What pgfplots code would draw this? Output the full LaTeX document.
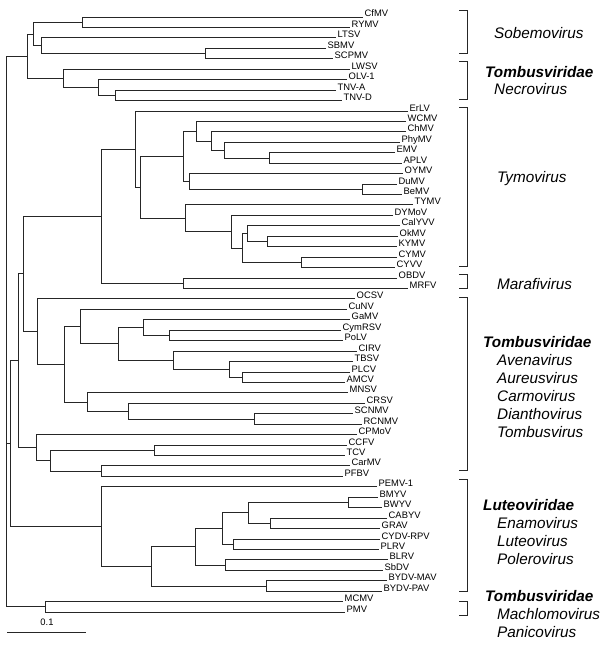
\documentclass[border=0pt]{standalone}
\usepackage{pgfplots}
\pgfplotsset{compat=1.18}
\usepackage{fontspec}
\setmainfont{Liberation Sans}
\begin{document}
\begin{tikzpicture}
\begin{axis}[width=607bp, height=646bp, scale only axis,
  xmin=0, xmax=607, ymin=0, ymax=646, y dir=reverse,
  hide axis, clip=false,
  br/.style={draw=black!85, line width=0.9bp, mark=none, forget plot}]
\coordinate (ll) at (axis cs:0,646);
\coordinate (ur) at (axis cs:607,0);
% root
\addplot[br] coordinates {(27,56.2) (6.5,56.2) (6.5,606.85) (45,606.85)};
\addplot[br] coordinates {(6.5,443.7) (10,443.7)};
% Sobemovirus / Necrovirus
\addplot[br] coordinates {(363,17.0) (82,17.0) (82,27.4) (350,27.4)};
\addplot[br] coordinates {(326,48.3) (205,48.3) (205,58.8) (333,58.8)};
\addplot[br] coordinates {(336,37.9) (41,37.9) (41,53.55) (205,53.55)};
\addplot[br] coordinates {(82,22.2) (33.7,22.2) (33.7,45.7) (41,45.7)};
\addplot[br] coordinates {(336,90.1) (115,90.1) (115,100.5) (342,100.5)};
\addplot[br] coordinates {(347,79.6) (98,79.6) (98,95.3) (115,95.3)};
\addplot[br] coordinates {(350,69.2) (63,69.2) (63,87.45) (98,87.45)};
\addplot[br] coordinates {(33.7,34.0) (27,34.0) (27,78.3) (63,78.3)};
% Tymovirus
\addplot[br] coordinates {(395,152.7) (269,152.7) (269,163.2) (402,163.2)};
\addplot[br] coordinates {(400,142.3) (224,142.3) (224,157.95) (269,157.95)};
\addplot[br] coordinates {(406,131.8) (211,131.8) (211,150.1) (224,150.1)};
\addplot[br] coordinates {(406,121.4) (196,121.4) (196,141.0) (211,141.0)};
\addplot[br] coordinates {(397,184.0) (362,184.0) (362,194.5) (402,194.5)};
\addplot[br] coordinates {(403,173.6) (189,173.6) (189,189.25) (362,189.25)};
\addplot[br] coordinates {(196,131.2) (183,131.2) (183,181.4) (189,181.4)};
\addplot[br] coordinates {(398,236.2) (267,236.2) (267,246.7) (397,246.7)};
\addplot[br] coordinates {(400,225.8) (247,225.8) (247,241.45) (267,241.45)};
\addplot[br] coordinates {(397,257.1) (301,257.1) (301,267.6) (395,267.6)};
\addplot[br] coordinates {(247,233.6) (242,233.6) (242,262.35) (301,262.35)};
\addplot[br] coordinates {(393,215.4) (231,215.4) (231,248.0) (242,248.0)};
\addplot[br] coordinates {(413,204.9) (185,204.9) (185,231.7) (231,231.7)};
\addplot[br] coordinates {(183,156.3) (140,156.3) (140,218.3) (185,218.3)};
\addplot[br] coordinates {(408,111.0) (135,111.0) (135,187.3) (140,187.3)};
\addplot[br] coordinates {(397,278.0) (183,278.0) (183,288.4) (408,288.4)};
\addplot[br] coordinates {(135,149.15) (101,149.15) (101,283.2) (183,283.2)};
% Tombusviridae
\addplot[br] coordinates {(341,330.2) (169,330.2) (169,340.6) (343,340.6)};
\addplot[br] coordinates {(350,319.8) (143,319.8) (143,335.4) (169,335.4)};
\addplot[br] coordinates {(350,372.0) (242,372.0) (242,382.4) (345,382.4)};
\addplot[br] coordinates {(353,361.5) (229,361.5) (229,377.2) (242,377.2)};
\addplot[br] coordinates {(357,351.1) (173,351.1) (173,369.35) (229,369.35)};
\addplot[br] coordinates {(143,327.6) (118,327.6) (118,360.2) (173,360.2)};
\addplot[br] coordinates {(347,309.3) (80,309.3) (80,343.9) (118,343.9)};
\addplot[br] coordinates {(353,413.7) (254,413.7) (254,424.2) (362,424.2)};
\addplot[br] coordinates {(365,403.3) (128,403.3) (128,418.95) (254,418.95)};
\addplot[br] coordinates {(348,392.8) (87,392.8) (87,411.1) (128,411.1)};
\addplot[br] coordinates {(80,326.6) (64,326.6) (64,401.95) (87,401.95)};
\addplot[br] coordinates {(355,298.9) (37,298.9) (37,364.3) (64,364.3)};
\addplot[br] coordinates {(101,216.2) (23,216.2) (23,331.6) (37,331.6)};
\addplot[br] coordinates {(347,445.0) (154,445.0) (154,455.5) (345,455.5)};
\addplot[br] coordinates {(350,465.9) (101,465.9) (101,476.4) (343,476.4)};
\addplot[br] coordinates {(154,450.25) (50,450.25) (50,471.15) (101,471.15)};
\addplot[br] coordinates {(357,434.6) (36,434.6) (36,460.7) (50,460.7)};
\addplot[br] coordinates {(23,273.9) (18,273.9) (18,447.65) (36,447.65)};
% Luteoviridae
\addplot[br] coordinates {(378,497.2) (348,497.2) (348,507.7) (382,507.7)};
\addplot[br] coordinates {(387,518.1) (270,518.1) (270,528.6) (380,528.6)};
\addplot[br] coordinates {(348,502.45) (248,502.45) (248,523.35) (270,523.35)};
\addplot[br] coordinates {(380,539.0) (233,539.0) (233,549.4) (379,549.4)};
\addplot[br] coordinates {(248,512.9) (222,512.9) (222,544.2) (233,544.2)};
\addplot[br] coordinates {(388,559.9) (225,559.9) (225,570.3) (383,570.3)};
\addplot[br] coordinates {(222,528.55) (195,528.55) (195,565.1) (225,565.1)};
\addplot[br] coordinates {(387,580.8) (266,580.8) (266,591.2) (382,591.2)};
\addplot[br] coordinates {(195,546.8) (151,546.8) (151,586.0) (266,586.0)};
\addplot[br] coordinates {(377,486.8) (101,486.8) (101,566.4) (151,566.4)};
\addplot[br] coordinates {(18,360.8) (10,360.8) (10,526.6) (101,526.6)};
% Machlomovirus / Panicovirus
\addplot[br] coordinates {(343,601.6) (45,601.6) (45,612.1) (345,612.1)};
% scale bar
\addplot[br] coordinates {(7,632) (86,632)};
% brackets
\addplot[br] coordinates {(459,10) (467,10) (467,53) (459,53)};
\addplot[br] coordinates {(459,61) (467,61) (467,99) (459,99)};
\addplot[br] coordinates {(459,107) (467,107) (467,266) (459,266)};
\addplot[br] coordinates {(459,274) (467,274) (467,288) (459,288)};
\addplot[br] coordinates {(459,297) (467,297) (467,470) (459,470)};
\addplot[br] coordinates {(459,479) (467,479) (467,591) (459,591)};
\addplot[br] coordinates {(459,601) (467,601) (467,615) (459,615)};
% leaf labels
\addplot[only marks, mark=none, forget plot, point meta=explicit symbolic,
  nodes near coords,
  nodes near coords style={anchor=base west, inner sep=0pt, xshift=1.5bp,
    font=\fontsize{9.4bp}{11bp}\selectfont, text=black}]
  table[meta=lab] {
x y lab
363 17.0 CfMV
350 27.4 RYMV
336 37.9 LTSV
326 48.3 SBMV
333 58.8 SCPMV
350 69.2 LWSV
347 79.6 OLV-1
336 90.1 TNV-A
342 100.5 TNV-D
408 111.0 ErLV
406 121.4 WCMV
406 131.8 ChMV
400 142.3 PhyMV
395 152.7 EMV
402 163.2 APLV
403 173.6 OYMV
397 184.0 DuMV
402 194.5 BeMV
413 204.9 TYMV
393 215.4 DYMoV
400 225.8 CalYVV
398 236.2 OkMV
397 246.7 KYMV
397 257.1 CYMV
395 267.6 CYVV
397 278.0 OBDV
408 288.4 MRFV
355 298.9 OCSV
347 309.3 CuNV
350 319.8 GaMV
341 330.2 CymRSV
343 340.6 PoLV
357 351.1 CIRV
353 361.5 TBSV
350 372.0 PLCV
345 382.4 AMCV
348 392.8 MNSV
365 403.3 CRSV
353 413.7 SCNMV
362 424.2 RCNMV
357 434.6 CPMoV
347 445.0 CCFV
345 455.5 TCV
350 465.9 CarMV
343 476.4 PFBV
377 486.8 PEMV-1
378 497.2 BMYV
382 507.7 BWYV
387 518.1 CABYV
380 528.6 GRAV
380 539.0 CYDV-RPV
379 549.4 PLRV
388 559.9 BLRV
383 570.3 SbDV
387 580.8 BYDV-MAV
382 591.2 BYDV-PAV
343 601.6 MCMV
345 612.1 PMV
};
% group labels
\begin{scope}[every node/.style={anchor=base west, inner sep=0pt,
    font=\fontsize{15.3bp}{18bp}\selectfont\itshape}]
\node at (axis cs:494,38.5) {Sobemovirus};
\node[font=\fontsize{15.3bp}{18bp}\selectfont\bfseries\itshape] at (axis cs:485,77.5) {Tombusviridae};
\node at (axis cs:494,94.5) {Necrovirus};
\node at (axis cs:497,182.5) {Tymovirus};
\node at (axis cs:497,289.5) {Marafivirus};
\node[font=\fontsize{15.3bp}{18bp}\selectfont\bfseries\itshape] at (axis cs:483,347.5) {Tombusviridae};
\node at (axis cs:497,365.5) {Avenavirus};
\node at (axis cs:497,383.5) {Aureusvirus};
\node at (axis cs:497,401.5) {Carmovirus};
\node at (axis cs:497,419.5) {Dianthovirus};
\node at (axis cs:497,437.5) {Tombusvirus};
\node[font=\fontsize{15.3bp}{18bp}\selectfont\bfseries\itshape] at (axis cs:483,510.5) {Luteoviridae};
\node at (axis cs:497,528.5) {Enamovirus};
\node at (axis cs:497,546.5) {Luteovirus};
\node at (axis cs:497,564.5) {Polerovirus};
\node[font=\fontsize{15.3bp}{18bp}\selectfont\bfseries\itshape] at (axis cs:485,601.5) {Tombusviridae};
\node at (axis cs:497,619.5) {Machlomovirus};
\node at (axis cs:497,637.5) {Panicovirus};
\end{scope}
\node[anchor=center, inner sep=0pt, font=\fontsize{9.4bp}{11bp}\selectfont] at (axis cs:47,622) {0.1};
\end{axis}
\pgfresetboundingbox
\path[use as bounding box] (ll) rectangle (ur);
\end{tikzpicture}
\end{document}
